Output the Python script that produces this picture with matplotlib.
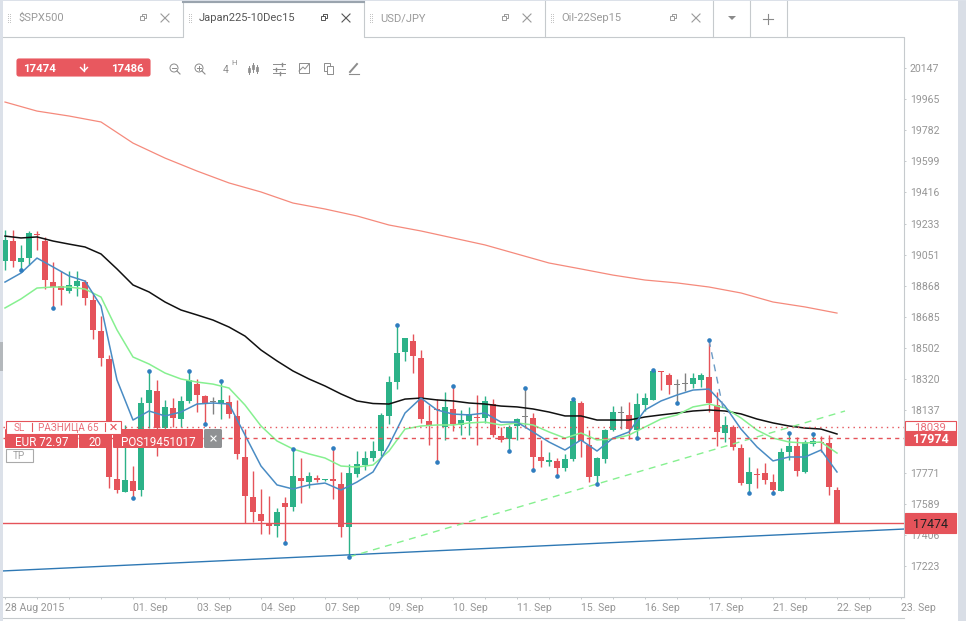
import numpy as np
from matplotlib import pyplot as plt
from matplotlib.patches import Rectangle, FancyBboxPatch, Circle, Polygon

plt.rcParams['font.family'] = ['Roboto', 'DejaVu Sans']

opens = [19014, 19131, 19008, 19032, 19172, 19131, 18890, 18867, 18837, 18867,
         18890, 18785, 18603, 18438, 17734, 17658, 17722, 17669, 18180, 18250,
         18033, 18151, 18086, 18192, 18291, 18221, 18186, 18180, 18186, 18104,
         17863, 17628, 17528, 17475, 17458, 17593, 17569, 17740, 17716, 17740,
         17728, 17734, 17704, 17452, 17763, 17816, 17857, 17898, 18104, 18303,
         18479, 18544, 18444, 18074, 18145, 18039, 18145, 18051, 18074, 18098,
         18092, 18174, 17986, 17969, 18045, 18098, 18092, 17863, 17834, 17839,
         17798, 17851, 18180, 17933, 17751, 17851, 18021, 18121, 18110, 18021,
         18168, 18198, 18368, 18344, 18286, 18291, 18291, 18315, 18333, 18168,
         18004, 18039, 17916, 17704, 17763, 17769, 17716, 17663, 17892, 17927,
         17775, 17939, 17951, 17945, 17669]
closes = [19137, 19014, 19032, 19178, 19166, 18902, 18861, 18843, 18873, 18896,
          18796, 18609, 18444, 17746, 17669, 17728, 17663, 18180, 18256, 18033,
          18157, 18092, 18192, 18315, 18227, 18180, 18186, 18198, 18116, 17881,
          17634, 17540, 17487, 17458, 17540, 17569, 17751, 17722, 17751, 17728,
          17734, 17722, 17452, 17769, 17822, 17857, 17898, 18110, 18303, 18474,
          18562, 18456, 18086, 18045, 18139, 18157, 18057, 18080, 18115, 18092,
          18192, 17992, 17963, 18039, 18086, 18098, 17863, 17839, 17845, 17798,
          17851, 18192, 17957, 17746, 17857, 18021, 18127, 18121, 18027, 18174,
          18209, 18368, 18362, 18286, 18286, 18291, 18327, 18344, 18180, 18010,
          18051, 17922, 17710, 17775, 17757, 17728, 17669, 17892, 17927, 17781,
          17951, 17957, 17945, 17687, 17474]
highs = [19196, 19196, 19108, 19190, 19190, 19155, 19008, 18955, 18955, 18955,
         18902, 18820, 18691, 18462, 18051, 18051, 17810, 18215, 18368, 18315,
         18198, 18209, 18221, 18368, 18321, 18227, 18215, 18309, 18227, 18198,
         18028, 17781, 17675, 17634, 17564, 17628, 17910, 17857, 17775, 17757,
         17734, 17916, 17775, 17822, 17898, 17898, 17957, 18121, 18338, 18638,
         18562, 18585, 18491, 18168, 18203, 18245, 18280, 18139, 18157, 18227,
         18221, 18203, 18039, 18051, 18092, 18268, 18121, 17963, 17892, 17857,
         17881, 18203, 18192, 18021, 17863, 18027, 18162, 18162, 18186, 18239,
         18239, 18374, 18368, 18356, 18321, 18356, 18356, 18356, 18550, 18245,
         18104, 18051, 17939, 17863, 17798, 17828, 17763, 17916, 18004, 17980,
         17963, 18000, 17986, 17992, 17687]
lows = [18961, 18979, 18961, 18990, 19078, 18849, 18738, 18755, 18826, 18808,
        18755, 18556, 18397, 17681, 17652, 17658, 17622, 17634, 18033, 17869,
        18021, 18039, 18039, 18180, 18127, 18057, 18116, 18086, 18092, 17851,
        17475, 17481, 17411, 17411, 17393, 17358, 17546, 17593, 17681, 17716,
        17722, 17616, 17393, 17276, 17746, 17787, 17839, 17869, 18057, 18262,
        18427, 18356, 18063, 17933, 17834, 17963, 18016, 17992, 17992, 17933,
        18063, 17980, 17951, 17898, 17963, 18033, 17787, 17804, 17810, 17751,
        17781, 17839, 17863, 17716, 17704, 17828, 18016, 18027, 17969, 17974,
        18133, 18198, 18256, 18233, 18180, 18250, 18268, 18274, 18127, 17928,
        17951, 17904, 17699, 17652, 17681, 17704, 17652, 17663, 17845, 17751,
        17769, 17927, 17892, 17640, 17474]

# fractal markers sit on the wick tips
high_dots = [18, 23, 27, 36, 41, 49, 56, 65, 71, 81, 88, 98, 101]
low_dots = [2, 6, 16, 25, 35, 43, 54, 63, 66, 69, 74, 79, 84, 93, 96]

ma_idx = list(range(0, 105, 2))
ma_black = [19160, 19149, 19155, 19131, 19113, 19096, 19055, 18967, 18873, 18832,
            18773, 18726, 18697, 18667, 18626, 18573, 18491, 18427, 18368, 18321,
            18280, 18233, 18192, 18177, 18174, 18203, 18209, 18198, 18192, 18180,
            18174, 18162, 18157, 18145, 18127, 18104, 18104, 18080, 18080, 18080,
            18098, 18110, 18121, 18133, 18139, 18133, 18116, 18086, 18063, 18045,
            18033, 18027, 17998]
ma_green = [18738, 18791, 18855, 18861, 18861, 18849, 18802, 18609, 18450, 18409,
            18356, 18321, 18303, 18291, 18268, 18168, 18045, 17957, 17910, 17881,
            17857, 17810, 17804, 17816, 17898, 18027, 18045, 18051, 18051, 18063,
            18068, 18051, 18063, 18051, 18010, 17974, 18004, 17963, 17969, 17992,
            18039, 18086, 18110, 18157, 18174, 18151, 18092, 18021, 17974, 17951,
            17945, 17951, 17886]
ma_blue = [18890, 18943, 19031, 18979, 18926, 18896, 18749, 18315, 18080, 18133,
           18104, 18127, 18174, 18180, 18174, 17992, 17810, 17699, 17675, 17699,
           17710, 17669, 17716, 17775, 17933, 18121, 18209, 18139, 18115, 18110,
           18121, 18068, 18068, 18010, 17951, 17904, 17963, 17898, 17974, 18010,
           18139, 18192, 18227, 18256, 18262, 18162, 18027, 17922, 17840, 17863,
           17863, 17904, 17775]
slow_idx = list(range(0, 105, 4))
ma_slow = [19947, 19894, 19865, 19830, 19706, 19618, 19542, 19472, 19419, 19354,
           19319, 19278, 19225, 19190, 19149, 19108, 19055, 19002, 18967, 18931,
           18902, 18885, 18861, 18826, 18773, 18744, 18708]

support_idx = [-0.25, 112.375]
support_price = [17194, 17440]
channel_idx = [43, 105]
channel_price = [17276, 18133]
drop_idx = [88, 89.9]
drop_price = [18550, 18116]

last_price = 17474
ask_price = 17486
stop_price = 17974
entry_price = 18039

y_ticks = [20147, 19965, 19782, 19599, 19416, 19233, 19051, 18868, 18685, 18502,
           18320, 18137, 17771, 17589, 17406, 17223]
x_ticks = [0, 16, 24, 32, 40, 48, 56, 64, 72, 80, 88, 96, 104, 112]
x_labels = ['28 Aug 2015', '01. Sep', '03. Sep', '04. Sep', '07. Sep', '09. Sep', '10. Sep',
            '11. Sep', '15. Sep', '16. Sep', '17. Sep', '21. Sep', '22. Sep', '23. Sep']

tabs = ['$SPX500', 'Japan225-10Dec15', 'USD/JPY', 'Oil-22Sep15']

RED = '#E5535A'
GREEN = '#2CB288'
GRAY = '#808080'
DOT = '#2F7DBF'
BORDER = '#C6CACD'
LABEL = '#969696'
ICON = '#8C8C8C'

W, H = 966, 621
fig = plt.figure(figsize=(W / 100, H / 100), dpi=100, facecolor='white')
ax = fig.add_axes([3 / W, (H - 597) / H, 901 / W, 559 / H])
ax.set_xlim(-0.25, 112.375)
ax.set_ylim(17041, 20323)

o = np.array(opens)
c = np.array(closes)
idx = np.arange(len(o))
colors = [GREEN if c[i] > o[i] else RED if c[i] < o[i] else GRAY for i in idx]

ax.vlines(idx, lows, highs, colors=colors, lw=1.0, zorder=2)
ax.bar(idx, np.maximum(np.abs(c - o), 6), bottom=np.minimum(o, c), width=0.68,
       color=colors, linewidth=0, zorder=3)

ax.plot(slow_idx, ma_slow, color='#F58A7C', lw=0.9, zorder=4)
ax.plot(ma_idx, ma_black, color='#111111', lw=1.1, zorder=4)
ax.plot(ma_idx, ma_green, color='#86F090', lw=1.1, zorder=4)
ax.plot(ma_idx, ma_blue, color='#4A8CC4', lw=1.1, zorder=4)

ax.plot(support_idx, support_price, color='#2E78B4', lw=1.0, zorder=4)
ax.plot(channel_idx, channel_price, color='#86F090', lw=1.0, ls=(0, (5, 4)), zorder=4)
ax.plot(drop_idx, drop_price, color='#6C9CC6', lw=1.0, ls=(0, (5, 4)), zorder=4)

ax.scatter(idx[high_dots], np.array(highs)[high_dots], s=11, color=DOT, linewidths=0, zorder=5)
ax.scatter(idx[low_dots], np.array(lows)[low_dots], s=11, color=DOT, linewidths=0, zorder=5)

ax.axhline(last_price, color=RED, lw=1.0, zorder=3)
ax.axhline(entry_price, color=RED, lw=1.0, ls=(0, (1, 3)), zorder=4)
ax.axhline(stop_price, color=RED, lw=1.0, ls=(0, (3, 3)), zorder=4)

ax.yaxis.tick_right()
ax.set_yticks(y_ticks)
ax.set_yticklabels([str(v) for v in y_ticks])
ax.set_xticks(x_ticks)
ax.set_xticklabels(x_labels, ha='left')
ax.set_xticks(np.arange(0, 113, 4), minor=True)
ax.tick_params(axis='y', length=1.5, width=0.7, pad=2.8, color=BORDER, labelcolor=LABEL, labelsize=7.6)
ax.tick_params(axis='x', which='both', length=1.5, width=0.7, pad=3, color=BORDER, labelcolor=LABEL, labelsize=7.6)
for name in ['top', 'left']:
    ax.spines[name].set_visible(False)
for name in ['right', 'bottom']:
    ax.spines[name].set_color(BORDER)
    ax.spines[name].set_linewidth(0.8)


def price_tag(value, face, text_color, height, size=8.2, weight='normal', edge=None):
    # box in the right margin, vertically tied to the price scale
    trans = ax.get_yaxis_transform()
    rect = Rectangle((1 + 1 / 901, value - height / 2), 51 / 901, height, transform=trans, clip_on=False,
                     facecolor=face, edgecolor=edge or face, linewidth=0.8, zorder=6)
    ax.add_patch(rect)
    ax.text(1 + 26.5 / 901, value, str(value), transform=trans, ha='center', va='center_baseline',
            color=text_color, fontsize=size, fontweight=weight, clip_on=False, zorder=7)


price_tag(entry_price, 'white', '#E9707A', 72)
ax.add_patch(Rectangle((1 + 1 / 901, entry_price - 36), 51 / 901, 72, transform=ax.get_yaxis_transform(),
                       clip_on=False, fill=False, edgecolor=RED, linewidth=0.8, zorder=6))
price_tag(stop_price, RED, 'white', 80, size=9, weight='bold')
price_tag(last_price, RED, '#222222', 118, size=9)

# application chrome, drawn in pixel coordinates on top of the chart
ui = fig.add_axes([0, 0, 1, 1])
ui.set_xlim(0, W)
ui.set_ylim(H, 0)
ui.axis('off')
ui.patch.set_alpha(0)

ui.add_patch(Rectangle((0, 0), 3, H, fc='#DCE1E9', lw=0))
ui.add_patch(Rectangle((958, 0), 8, H, fc='#D9DEE6', lw=0))
ui.add_patch(Rectangle((0, 0), W, 1, fc='#DCE1E9', lw=0))
ui.add_patch(Rectangle((0, 342), 3, 29, fc='#B4B8BC', lw=0))
ui.plot([3, 904], [618, 618], color=BORDER, lw=0.8)

ui.plot([3, 183, 183, 364, 364, 904, 904], [37, 37, 1.5, 1.5, 37, 37, 38], color=BORDER, lw=0.8)
ui.plot([183, 364], [1.5, 1.5], color='#9AA4AE', lw=1.5)
for x in [545, 713, 750, 787]:
    ui.plot([x, x], [1, 37], color=BORDER, lw=0.8)


def restore_icon(x, y, col):
    ui.add_patch(Rectangle((x - 3, y - 2), 4, 4, fc='none', ec=col, lw=0.7))
    ui.plot([x - 1, x - 1, x + 3, x + 3, x + 1], [y - 2, y - 4, y - 4, y, y], color=col, lw=0.7)


def close_icon(x, y, col, r=4, z=2):
    ui.plot([x - r, x + r], [y - r, y + r], color=col, lw=0.8, zorder=z)
    ui.plot([x - r, x + r], [y + r, y - r], color=col, lw=0.8, zorder=z)


def grip(x, y):
    for dx in [0, 2]:
        for dy in range(-4, 5, 2):
            ui.add_patch(Rectangle((x + dx, y + dy), 1, 1, fc='#C4C4C4', lw=0))


tab_x = [18, 199, 380, 561]
restore_x = [143, 324, 505, 673]
close_x = [165, 346, 527, 696]
for k, label in enumerate(tabs):
    col = '#555555' if k == 1 else '#9A9A9A'
    ui.text(tab_x[k], 18, label, color=col, fontsize=8.0, va='center', ha='left')
    grip(tab_x[k] - 10, 18)
    restore_icon(restore_x[k], 18, col)
    close_icon(close_x[k], 18, col)
ui.add_patch(Polygon([[728, 16], [736, 16], [732, 20]], fc='#8A8A8A', lw=0))
ui.plot([763, 773], [18.5, 18.5], color='#8A8A8A', lw=0.8)
ui.plot([768, 768], [13.5, 23.5], color='#8A8A8A', lw=0.8)

# bid/ask badge and toolbar
ui.add_patch(FancyBboxPatch((17, 59), 133, 17, boxstyle='round,pad=0,rounding_size=2', fc='#E8585F', ec='#E8585F', lw=0.8))
ui.text(23, 68, str(last_price), color='white', fontsize=8.2, fontweight='bold', va='center_baseline')
ui.text(144, 68, str(ask_price), color='white', fontsize=8.2, fontweight='bold', va='center_baseline', ha='right')
ui.plot([84, 84], [64, 71], color='white', lw=1.0)
ui.plot([80.5, 84, 87.5], [67.5, 71, 67.5], color='white', lw=1.0)

for x, sign in [(174, '-'), (199, '+')]:
    ui.add_patch(Circle((x, 68), 4, fc='none', ec=ICON, lw=0.7))
    ui.plot([x + 3, x + 6], [71, 74], color=ICON, lw=0.8)
    ui.plot([x - 2, x + 2], [68, 68], color=ICON, lw=0.7)
    if sign == '+':
        ui.plot([x, x], [66, 70], color=ICON, lw=0.7)
ui.text(226, 70, '4', color=ICON, fontsize=7.6, ha='center', va='center')
ui.text(234, 63, 'H', color=ICON, fontsize=5.6, ha='center', va='center')

for x, y0, y1 in [(249, 66, 74), (253, 63, 72), (257, 65, 73)]:
    ui.plot([x, x], [y0, y1], color=ICON, lw=0.7)
    ui.add_patch(Rectangle((x - 1.2, y0 + 2), 2.4, 4, fc='white', ec=ICON, lw=0.6))
for y, x in [(64, 282), (69, 276), (73, 280)]:
    ui.plot([273, 285], [y, y], color=ICON, lw=0.7)
    ui.plot([x, x], [y - 1.5, y + 1.5], color=ICON, lw=1.0)
ui.add_patch(Rectangle((299, 63), 10, 10, fc='none', ec=ICON, lw=0.7))
ui.plot([299, 303, 305, 309], [71, 67, 69, 64], color=ICON, lw=0.7)
ui.add_patch(Rectangle((324, 63), 6, 8, fc='white', ec=ICON, lw=0.7))
ui.add_patch(Rectangle((327, 66), 6, 8, fc='white', ec=ICON, lw=0.7))
ui.plot([349, 359], [74, 74], color=ICON, lw=0.8)
ui.plot([350, 357], [72, 64], color=ICON, lw=1.4)

# open position widget
row_y, row_h = 429, 19
for x0, x1 in [(5, 78), (79, 112), (113, 203)]:
    ui.add_patch(FancyBboxPatch((x0, row_y), x1 - x0, row_h, boxstyle='round,pad=0,rounding_size=1', fc=RED, lw=0, zorder=3))
ui.add_patch(FancyBboxPatch((204, row_y), 18, row_h, boxstyle='round,pad=0,rounding_size=1.5', fc='#8F9193', lw=0, zorder=3))
close_icon(213.5, 438.5, 'white', r=2.5, z=5)
ui.add_patch(Rectangle((5.5, 420.5), 115, 13, fc='white', ec=RED, lw=0.8, zorder=4))
for x, label in [(19, 'SL'), (68.5, 'РАЗНИЦА 65')]:
    ui.text(x, 427, label, color='#E9707A', fontsize=7.2, ha='center', va='center_baseline', zorder=5)
for x in [32, 105]:
    ui.plot([x, x], [423, 431], color=RED, lw=0.8, zorder=5)
close_icon(113.5, 427, RED, r=2.5, z=5)
ui.text(42, 440.5, 'EUR 72.97', color='white', fontsize=8.4, ha='center', va='center_baseline', zorder=5)
ui.text(95, 440.5, '20', color='white', fontsize=8.4, ha='center', va='center_baseline', zorder=5)
ui.text(158, 440.5, 'POS19451017', color='white', fontsize=8.4, ha='center', va='center_baseline', zorder=5)
ui.add_patch(Rectangle((5.5, 448.5), 27, 13, fc='white', ec='#AAAAAA', lw=0.8, zorder=4))
ui.text(19, 455, 'TP', color='#A0A0A0', fontsize=7.2, ha='center', va='center_baseline', zorder=5)

plt.savefig('out.png', dpi=100)
plt.close()
